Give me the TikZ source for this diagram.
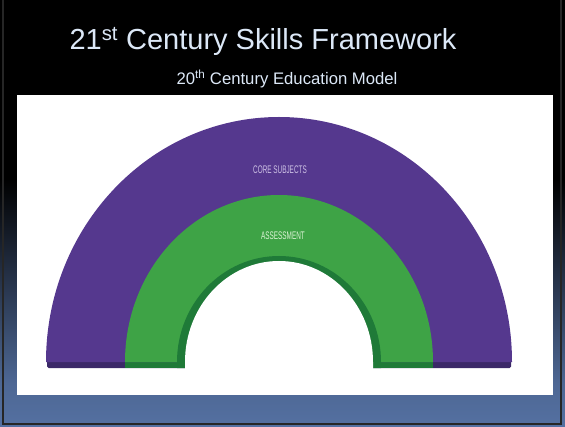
\documentclass[tikz,border=0pt]{standalone}
\usepackage{fontspec}
\setmainfont{Liberation Sans}

\definecolor{slideblue}{HTML}{5470A1}
\definecolor{titlecol}{HTML}{DCE8F7}
\definecolor{corepurple}{HTML}{55388E}
\definecolor{corebase}{HTML}{3B2868}
\definecolor{assessgreen}{HTML}{3EA346}
\definecolor{assessbase}{HTML}{1F7A38}
\definecolor{corelabel}{HTML}{CFC3E6}
\definecolor{assesslabel}{HTML}{DDF3D6}

\pgfdeclareverticalshading{slidebg}{100bp}{%
  color(0bp)=(slideblue); color(25bp)=(slideblue); color(30bp)=(slideblue!92!black);
  color(54bp)=(black); color(100bp)=(black)}

\tikzset{
  titletext/.style={text=titlecol, inner sep=0pt},
  archlabel/.style={inner sep=0pt, font=\fontsize{11}{12}\selectfont},
}

\begin{document}
\begin{tikzpicture}[x=1pt,y=1pt]
\useasboundingbox (0,0) rectangle (565,426);
\shade[shading=slidebg] (0,0) rectangle (565,426);
\draw[black!85, line width=2pt] (3,426) -- (3,2) -- (561,2) -- (561,426);

% white panel
\fill[white] (17,31) rectangle (553,331);

% bases
\fill[corebase, rounded corners=1.5pt] (47,58) rectangle (511,66);
\fill[assessbase] (125,58) rectangle (433,66);

% arches
\fill[corepurple] (46,64) arc[start angle=180, end angle=0, x radius=233, y radius=245] -- cycle;
\fill[assessgreen] (125,64) arc[start angle=180, end angle=0, x radius=154, y radius=167] -- cycle;
\fill[assessbase] (177,58) -- (177,64) arc[start angle=180, end angle=0, x radius=102, y radius=106] -- (381,58) -- cycle;
\fill[white] (185,56) -- (185,64) arc[start angle=180, end angle=0, x radius=94, y radius=101] -- (373,56) -- cycle;

% labels
\node[archlabel, text=corelabel] (core) at (280,256) {\scalebox{0.58}[1]{CORE SUBJECTS}};
\node[archlabel, text=assesslabel] (assess) at (283,190) {\scalebox{0.58}[1]{ASSESSMENT}};

% titles
\node[titletext, font=\fontsize{29}{32}\selectfont] (title) at (263,385) {21\textsuperscript{st} Century Skills Framework};
\node[titletext, font=\fontsize{16.7}{19}\selectfont] (subtitle) at (287,347) {20\textsuperscript{th} Century Education Model};
\end{tikzpicture}
\end{document}
